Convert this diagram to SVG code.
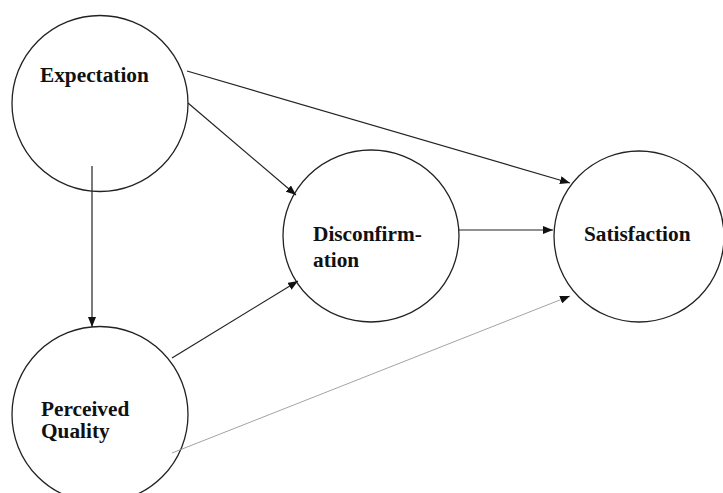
<svg xmlns="http://www.w3.org/2000/svg" width="723" height="493" viewBox="0 0 723 493">
  <style>
    .node { fill: #fff; stroke: #222; stroke-width: 1.3; }
    .label { font-family: "Liberation Serif", "Times New Roman", serif; font-weight: bold; font-size: 21.3px; fill: #111; }
    .edge { stroke: #222; stroke-width: 1.2; fill: none; marker-end: url(#head); }
    .edge.faint { stroke: #999; stroke-width: 0.9; marker-end: url(#head); }
  </style>
  <defs>
    <marker id="head" viewBox="0 0 10 8" refX="10" refY="4" markerWidth="10" markerHeight="8" markerUnits="userSpaceOnUse" orient="auto">
      <path d="M0,0 L10,4 L0,8 Z" fill="#111"/>
    </marker>
  </defs>
  <rect width="723" height="493" fill="#fff"/>

  <g id="expectation">
    <ellipse class="node" cx="100" cy="103.5" rx="88" ry="88"/>
    <text class="label" x="40" y="82">Expectation</text>
  </g>

  <g id="perceived-quality">
    <ellipse class="node" cx="100" cy="414.5" rx="88" ry="88"/>
    <text class="label" x="41" y="416">Perceived</text>
    <text class="label" x="41" y="438">Quality</text>
  </g>

  <g id="disconfirmation">
    <ellipse class="node" cx="371" cy="236" rx="88" ry="86"/>
    <text class="label" x="313" y="241">Disconfirm-</text>
    <text class="label" x="313" y="267">ation</text>
  </g>

  <g id="satisfaction">
    <ellipse class="node" cx="639" cy="236.5" rx="85" ry="85.5"/>
    <text class="label" x="584" y="241">Satisfaction</text>
  </g>

  <g id="connectors">
    <line class="edge" x1="92" y1="166" x2="92" y2="327"/>
    <line class="edge" x1="188" y1="103" x2="296" y2="195"/>
    <line class="edge" x1="187" y1="71" x2="570" y2="183"/>
    <line class="edge" x1="459" y1="230" x2="553" y2="230"/>
    <line class="edge" x1="172" y1="358" x2="298" y2="281"/>
    <line class="edge faint" x1="172" y1="453" x2="570" y2="296"/>
  </g>
</svg>
